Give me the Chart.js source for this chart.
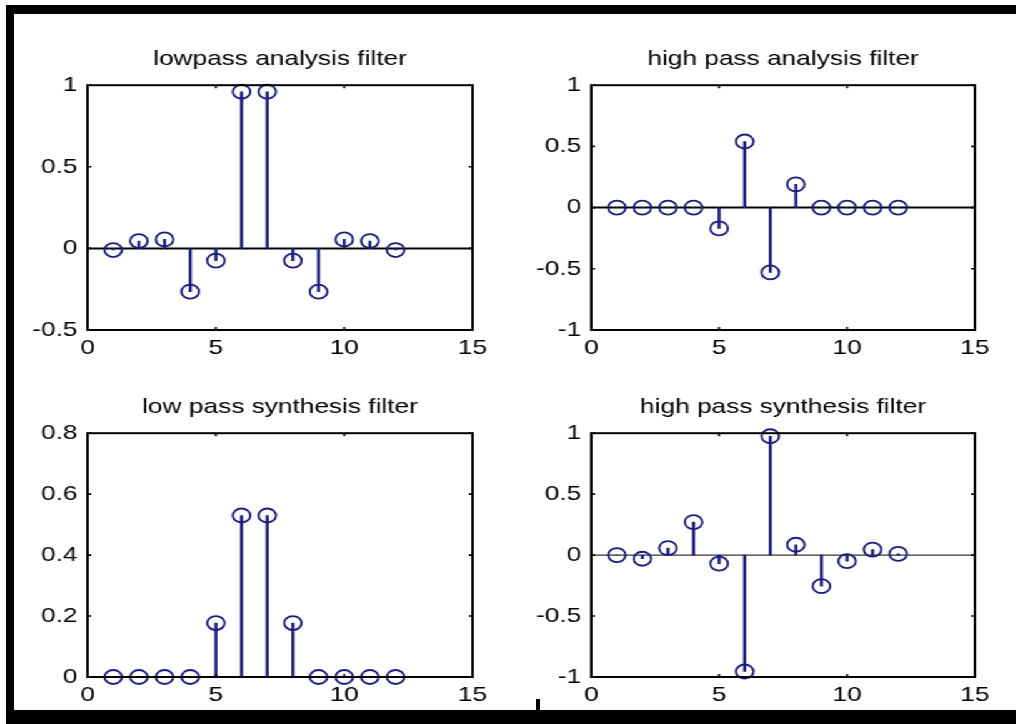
<!DOCTYPE html>
<html>
<head>
<meta charset="utf-8">
<script src="https://cdn.jsdelivr.net/npm/chart.js@4.4.1/dist/chart.umd.min.js"></script>
<style>
body { margin: 0; background: #fff; }
#page { position: relative; width: 1016px; height: 724px; overflow: hidden; background: #fff; }
/* the picture is stretched sideways, so the charts are drawn narrower and scaled */
#stage { position: absolute; left: 0; top: 0; width: 813px; height: 724px; transform: scaleX(1.25); transform-origin: 0 0; }
#stage canvas { position: absolute; }
.band { position: absolute; background: #000; }
</style>
</head>
<body>
<div id="page">
  <div id="stage">
    <canvas id="c1" width="394" height="325" style="left:4px;top:40px"></canvas>
    <canvas id="c2" width="393" height="325" style="left:407px;top:40px"></canvas>
    <canvas id="c3" width="394" height="324" style="left:4px;top:388px"></canvas>
    <canvas id="c4" width="393" height="324" style="left:407px;top:388px"></canvas>
  </div>
  <div class="band" style="left:6px;top:5px;width:1010px;height:9px"></div>
  <div class="band" style="left:6px;top:5px;width:8px;height:719px"></div>
  <div class="band" style="left:6px;top:710px;width:1010px;height:14px"></div>
  <div class="band" style="left:536px;top:699px;width:4px;height:11px"></div>
</div>
<script>
"use strict";

const n = [1, 2, 3, 4, 5, 6, 7, 8, 9, 10, 11, 12];
const lowAnalysis = [-0.01, 0.045, 0.055, -0.265, -0.075, 0.96, 0.96, -0.075, -0.265, 0.055, 0.045, -0.01];
const highAnalysis = [0, 0, 0, 0, -0.17, 0.54, -0.53, 0.19, 0, 0, 0, 0];
const lowSynthesis = [0, 0, 0, 0, 0.177, 0.53, 0.53, 0.177, 0, 0, 0, 0];
const highSynthesis = [0, -0.03, 0.057, 0.27, -0.07, -0.955, 0.975, 0.085, -0.255, -0.05, 0.045, 0.01];

const titles = ["lowpass analysis filter", "high pass analysis filter", "low pass synthesis filter", "high pass synthesis filter"];
const yMin = [-0.5, -1, 0, -1];
const yMax = [1, 1, 0.8, 1];
const yStep = [0.5, 0.5, 0.2, 0.5];
const zeroLine = [2, 2, 0, 1];
const xRange = [0, 15];
const xStep = 5;

const stemColor = "#1b1b7d";
const font = "'Liberation Sans', Arial, sans-serif";

// MATLAB style box, inward ticks and base line
const matlabAxes = {
    id: "matlabAxes",
    beforeDatasetsDraw(chart, args, opts) {
        if (!opts.zeroWidth) return;
        const {ctx, chartArea: a} = chart;
        const y0 = chart.scales.y.getPixelForValue(0);
        ctx.save();
        ctx.strokeStyle = "#000";
        ctx.lineWidth = opts.zeroWidth;
        ctx.beginPath();
        ctx.moveTo(a.left, y0);
        ctx.lineTo(a.right, y0);
        ctx.stroke();
        ctx.restore();
    },
    afterDatasetsDraw(chart) {
        const {ctx, chartArea: a, scales} = chart;
        const len = 3;
        ctx.save();
        ctx.strokeStyle = "#000";
        ctx.lineWidth = 1.6;
        ctx.beginPath();
        scales.x.ticks.forEach(t => {
            const px = scales.x.getPixelForValue(t.value);
            ctx.moveTo(px, a.top); ctx.lineTo(px, a.top + len);
            ctx.moveTo(px, a.bottom); ctx.lineTo(px, a.bottom - len);
        });
        scales.y.ticks.forEach(t => {
            const py = scales.y.getPixelForValue(t.value);
            ctx.moveTo(a.left, py); ctx.lineTo(a.left + len, py);
            ctx.moveTo(a.right, py); ctx.lineTo(a.right - len, py);
        });
        ctx.stroke();
        ctx.lineWidth = 2;
        ctx.strokeRect(a.left, a.top, a.right - a.left, a.bottom - a.top);
        ctx.restore();
    }
};

function drawStem(canvasId, values, i) {
    const points = n.map((x, k) => ({x: x, y: values[k]}));
    new Chart(document.getElementById(canvasId), {
        type: "scatter",
        data: {
            datasets: [{
                type: "scatter",
                data: points,
                order: 0,
                clip: false,
                pointStyle: "circle",
                pointRadius: 7,
                pointBorderWidth: 1.8,
                pointBorderColor: stemColor,
                pointBackgroundColor: "rgba(0,0,0,0)"
            }, {
                type: "bar",
                data: points,
                order: 1,
                barThickness: 1.8,
                backgroundColor: stemColor,
                borderWidth: 0
            }]
        },
        options: {
            responsive: false,
            animation: false,
            layout: {padding: {right: 20}},
            plugins: {
                legend: {display: false},
                tooltip: {enabled: false},
                title: {
                    display: true,
                    text: titles[i],
                    fullSize: false,
                    color: "#000",
                    font: {family: font, size: 21, weight: "normal", lineHeight: 1.2},
                    padding: {top: 7, bottom: 13}
                },
                matlabAxes: {zeroWidth: zeroLine[i]}
            },
            scales: {
                x: {
                    type: "linear",
                    min: xRange[0],
                    max: xRange[1],
                    offset: false,
                    afterFit: s => { s.height = 35; },
                    grid: {display: false, offset: false, drawTicks: false},
                    border: {display: false},
                    ticks: {stepSize: xStep, padding: 6, color: "#000", font: {family: font, size: 21}, maxRotation: 0}
                },
                y: {
                    type: "linear",
                    min: yMin[i],
                    max: yMax[i],
                    afterFit: s => { s.width = 66; },
                    grid: {display: false, drawTicks: false},
                    border: {display: false},
                    ticks: {
                        stepSize: yStep[i],
                        padding: 8,
                        color: "#000",
                        font: {family: font, size: 21},
                        callback: v => String(Math.round(v * 10) / 10)
                    }
                }
            }
        },
        plugins: [matlabAxes]
    });
}

drawStem("c1", lowAnalysis, 0);
drawStem("c2", highAnalysis, 1);
drawStem("c3", lowSynthesis, 2);
drawStem("c4", highSynthesis, 3);
</script>
</body>
</html>
